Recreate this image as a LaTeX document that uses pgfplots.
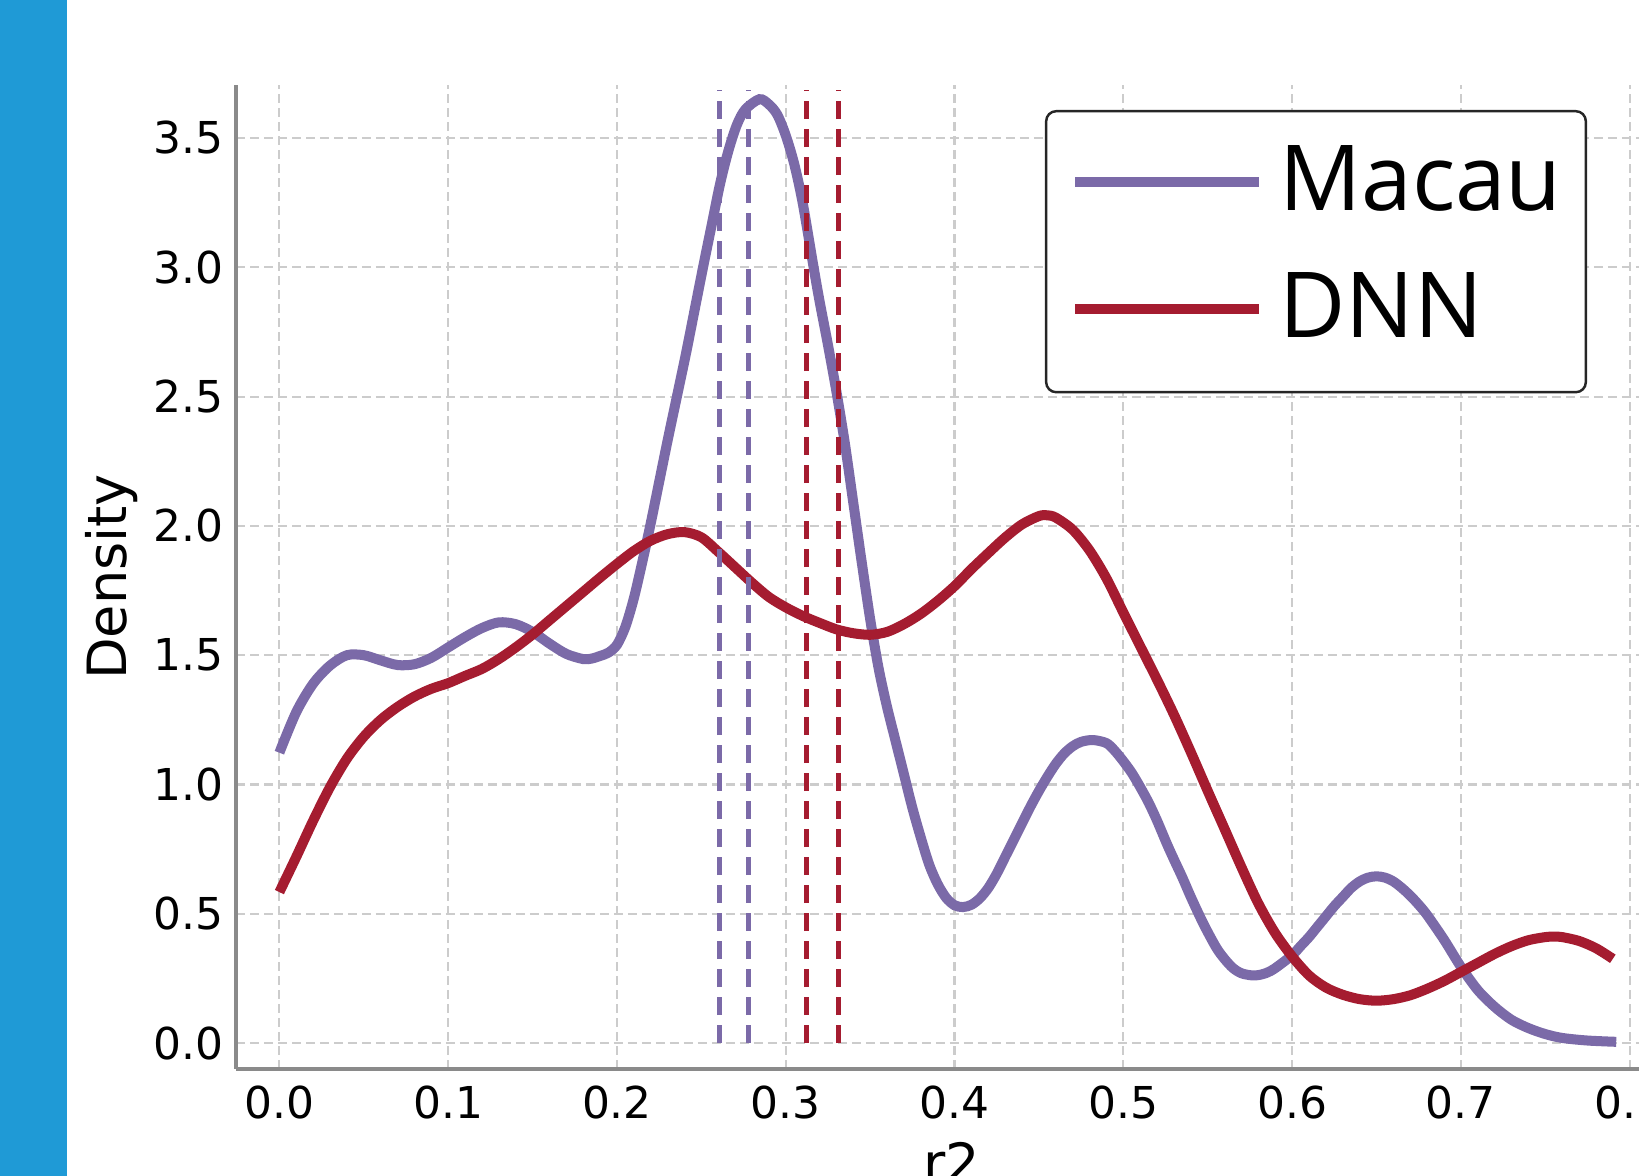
\documentclass[border=0pt]{standalone}
\usepackage{fontspec}
\setmainfont{DejaVu Sans}
\newfontfamily\legfont{Open Sans}
\usepackage{pgfplots}
\pgfplotsset{compat=1.18}
\definecolor{macau}{HTML}{7B6AA8}
\definecolor{dnn}{HTML}{A51C30}
\definecolor{sidebar}{HTML}{1F9AD6}
\definecolor{spine}{HTML}{8A8A8A}
\definecolor{gridc}{HTML}{CCCCCC}

\begin{document}
\begin{tikzpicture}
\fill[sidebar] (0,0) rectangle (0.67,11.76);
\begin{axis}[
  at={(2.36cm,1.07cm)}, anchor=south west,
  scale only axis, width=14.32cm, height=9.84cm,
  xmin=-0.0257, xmax=0.8227, ymin=-0.1, ymax=3.705,
  axis x line*=bottom, axis y line*=left,
  axis line style={spine, line width=1.14pt},
  major tick length=0pt,
  xtick={0,0.1,0.2,0.3,0.4,0.5,0.6,0.7,0.8},
  ytick={0,0.5,1,1.5,2,2.5,3,3.5},
  grid=major,
  major grid style={gridc, line width=0.6pt, dash pattern=on 0.09cm off 0.05cm},
  /pgf/number format/assume math mode=true,
  /pgf/number format/fixed, /pgf/number format/fixed zerofill,
  /pgf/number format/precision=1,
  tick label style={font=\fontsize{12.5}{15}\selectfont, inner sep=0pt},
  yticklabel style={xshift=-0.12cm},
  xticklabel style={yshift=-0.16cm},
  xlabel={r2}, ylabel={Density},
  xlabel style={at={(axis description cs:0.5,-0.0742)}, anchor=north, inner sep=0pt, font=\fontsize{15.4}{18}\selectfont},
  ylabel style={at={(axis description cs:-0.0684,0.5)}, anchor=south, inner sep=0pt, font=\fontsize{15.4}{18}\selectfont},
  legend cell align=left,
  legend style={at={(0.5649,0.9746)}, anchor=north west, draw=black!85, line width=0.7pt,
    rounded corners=0.1cm, fill=white, inner xsep=0.24cm, inner ysep=0.33cm,
    row sep=0.39cm, column sep=0.15cm,
    font=\legfont\fontsize{25.9}{31}\selectfont,
    nodes={inner sep=0pt, text height=0.66cm, text depth=0.22cm}},
  legend image code/.code={\draw[#1] (0cm,0.06cm) -- (1.84cm,0.06cm);},
]
% Macau density
\addplot[macau, line width=2.85pt, smooth, tension=0.5] coordinates {
  (0.000,1.123) (0.010,1.28) (0.020,1.39) (0.030,1.46) (0.040,1.50)
  (0.050,1.50) (0.060,1.48) (0.070,1.462) (0.080,1.465) (0.090,1.49)
  (0.100,1.53) (0.110,1.57) (0.120,1.605) (0.130,1.627) (0.140,1.62)
  (0.150,1.59) (0.160,1.545) (0.170,1.505) (0.180,1.485) (0.185,1.487)
  (0.190,1.497) (0.195,1.51) (0.200,1.54) (0.205,1.61) (0.210,1.72)
  (0.215,1.86) (0.220,2.01) (0.225,2.17) (0.230,2.33) (0.236,2.515)
  (0.241,2.67) (0.246,2.835) (0.251,3.00) (0.256,3.16) (0.261,3.32)
  (0.266,3.45) (0.271,3.55) (0.276,3.61) (0.2844,3.65) (0.290,3.63)
  (0.295,3.59) (0.300,3.51) (0.305,3.40) (0.310,3.25) (0.3165,3.00)
  (0.320,2.87) (0.325,2.70) (0.330,2.52) (0.335,2.32) (0.340,2.09)
  (0.345,1.86) (0.350,1.64) (0.355,1.45) (0.360,1.30) (0.365,1.17)
  (0.370,1.04) (0.375,0.91) (0.380,0.795) (0.385,0.69) (0.390,0.615)
  (0.395,0.562) (0.400,0.533) (0.405,0.526) (0.410,0.535) (0.415,0.56)
  (0.420,0.60) (0.425,0.655) (0.430,0.72) (0.435,0.785) (0.440,0.85)
  (0.445,0.915) (0.450,0.975) (0.455,1.03) (0.460,1.08) (0.465,1.12)
  (0.470,1.148) (0.475,1.165) (0.482,1.172) (0.490,1.16) (0.495,1.13)
  (0.500,1.09) (0.505,1.045) (0.510,0.99) (0.515,0.93) (0.520,0.86)
  (0.5257,0.772) (0.530,0.71) (0.535,0.64) (0.540,0.565) (0.5474,0.462)
  (0.555,0.37) (0.560,0.325) (0.565,0.29) (0.570,0.27) (0.576,0.262)
  (0.580,0.263) (0.585,0.272) (0.590,0.29) (0.600,0.34) (0.605,0.375)
  (0.610,0.41) (0.615,0.45) (0.620,0.49) (0.625,0.53) (0.630,0.565)
  (0.635,0.60) (0.640,0.625) (0.645,0.64) (0.650,0.645) (0.655,0.64)
  (0.660,0.625) (0.665,0.60) (0.670,0.57) (0.675,0.535) (0.680,0.495)
  (0.690,0.40) (0.700,0.295) (0.710,0.205) (0.720,0.14) (0.730,0.09)
  (0.740,0.058) (0.750,0.035) (0.760,0.02) (0.775,0.01) (0.792,0.005)
};
\addlegendentry{Macau}
% DNN density
\addplot[dnn, line width=2.85pt, smooth, tension=0.5] coordinates {
  (0.00,0.584) (0.01,0.72) (0.02,0.86) (0.03,0.99) (0.04,1.10)
  (0.05,1.185) (0.06,1.25) (0.07,1.30) (0.08,1.34) (0.09,1.37)
  (0.10,1.392) (0.11,1.42) (0.12,1.447) (0.13,1.485) (0.14,1.53)
  (0.15,1.58) (0.16,1.635) (0.17,1.69) (0.18,1.745) (0.19,1.80)
  (0.20,1.853) (0.21,1.903) (0.22,1.943) (0.23,1.968) (0.24,1.976)
  (0.25,1.956) (0.26,1.90) (0.27,1.84) (0.28,1.78) (0.29,1.725)
  (0.30,1.685) (0.31,1.652) (0.32,1.625) (0.33,1.60) (0.34,1.585)
  (0.35,1.579) (0.36,1.59) (0.37,1.62) (0.38,1.66) (0.39,1.71)
  (0.40,1.767) (0.41,1.833) (0.42,1.895) (0.43,1.955) (0.44,2.006)
  (0.45,2.038) (0.455,2.041) (0.46,2.032) (0.47,1.985) (0.48,1.905)
  (0.49,1.797) (0.50,1.665) (0.51,1.535) (0.52,1.405) (0.53,1.27)
  (0.54,1.125) (0.55,0.975) (0.56,0.828) (0.57,0.68) (0.58,0.54)
  (0.59,0.425) (0.60,0.335) (0.61,0.262) (0.62,0.215) (0.63,0.187)
  (0.64,0.17) (0.65,0.164) (0.66,0.17) (0.67,0.185) (0.68,0.21)
  (0.69,0.24) (0.70,0.275) (0.71,0.31) (0.72,0.345) (0.73,0.375)
  (0.74,0.398) (0.75,0.41) (0.755,0.412) (0.76,0.41) (0.77,0.395)
  (0.78,0.367) (0.79,0.326)
};
\addlegendentry{DNN}
% mean / median markers
\addplot[macau, line width=1.42pt, dash pattern=on 0.185cm off 0.095cm, forget plot] coordinates {(0.2607,0) (0.2607,3.685)};
\addplot[macau, line width=1.42pt, dash pattern=on 0.185cm off 0.095cm, forget plot] coordinates {(0.2778,0) (0.2778,3.685)};
\addplot[dnn, line width=1.42pt, dash pattern=on 0.185cm off 0.095cm, forget plot] coordinates {(0.3120,0) (0.3120,3.685)};
\addplot[dnn, line width=1.42pt, dash pattern=on 0.185cm off 0.095cm, forget plot] coordinates {(0.3312,0) (0.3312,3.685)};
\end{axis}
\pgfresetboundingbox
\path (0,0) rectangle (16.39,11.76);
\end{tikzpicture}
\end{document}
